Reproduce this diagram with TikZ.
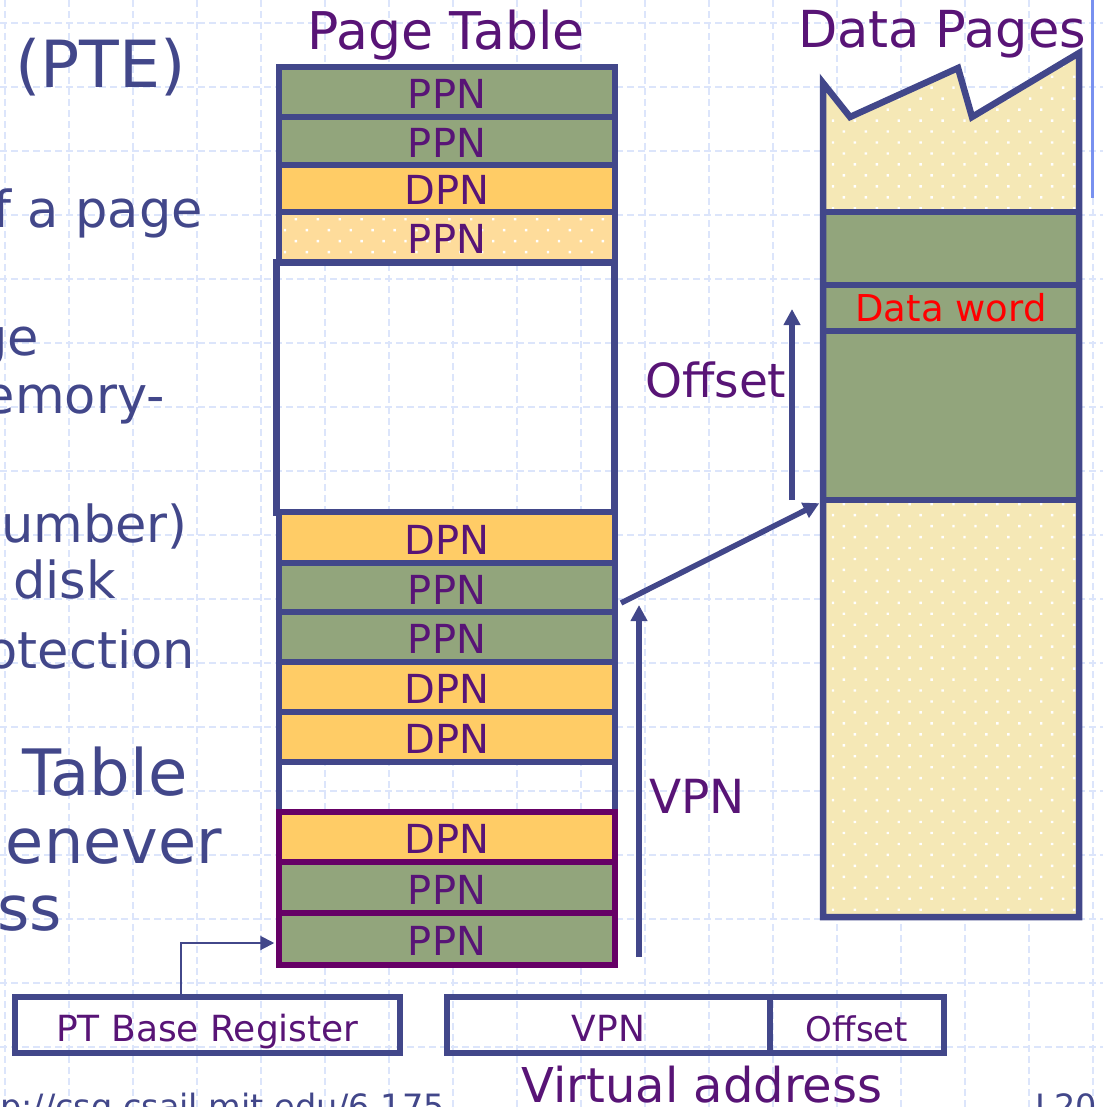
\documentclass[tikz,border=0pt]{standalone}
\usepackage{fontspec}
\setmainfont{DejaVu Sans}
\usetikzlibrary{arrows.meta,patterns.meta}

\definecolor{slate}{RGB}{66,71,138}
\definecolor{ptext}{RGB}{88,20,118}
\definecolor{plum}{RGB}{102,0,102}
\definecolor{pgreen}{RGB}{146,165,124}
\definecolor{porange}{RGB}{255,204,102}
\definecolor{ptdot}{RGB}{254,220,155}
\definecolor{dpdot}{RGB}{245,232,182}
\definecolor{gridblue}{RGB}{220,229,251}
\definecolor{edgeblue}{RGB}{120,145,240}

\tikzset{
  gridline/.style={gridblue, line width=1.2pt, dash pattern=on 7pt off 4pt},
  speckle/.style={preaction={fill=#1},
    preaction={pattern={Dots[radius=1.7pt,distance=15.5pt,angle=45]}, pattern color=white}},
  ptrow/.style={draw=slate, line width=5.5pt, minimum width=336pt, inner sep=0pt,
    text height=40pt, text depth=7pt, font=\fontsize{40}{48}\selectfont, text=ptext},
  ppn/.style={ptrow, fill=pgreen},
  dpn/.style={ptrow, fill=porange},
  plumframe/.style={draw=plum},
  dpblock/.style={draw=slate, line width=5.5pt, fill=pgreen, minimum width=256pt, inner sep=0pt},
  regbox/.style={draw=slate, line width=5.5pt, minimum height=56pt, inner sep=0pt,
    text height=32pt, text depth=0pt, font=\fontsize{36}{42}\selectfont, text=ptext},
  bodytext/.style={inner sep=0pt, text=slate, font=\fontsize{65}{70}\selectfont},
  subtext/.style={inner sep=0pt, text=slate, font=\fontsize{51}{56}\selectfont},
  bigtext/.style={inner sep=0pt, text=slate, font=\fontsize{62}{66}\selectfont},
  foottext/.style={inner sep=0pt, text=slate, font=\fontsize{33.5}{36}\selectfont},
  title/.style={inner sep=0pt, text=ptext, anchor=base},
  sidelabel/.style={inner sep=0pt, text=ptext, anchor=base west, font=\fontsize{47}{52}\selectfont},
  bigarrow/.style={slate, line width=5.5pt, -{Triangle[length=16pt,width=16pt]}},
  thinarrow/.style={slate, line width=2pt, -{Triangle[length=14pt,width=14pt]}},
}

\begin{document}
\begin{tikzpicture}[x=1pt,y=-1pt]
\useasboundingbox (0,0) rectangle (1103,1107);
\clip (0,0) rectangle (1103,1107);

% background grid
\foreach \i in {0,...,17} \draw[gridline] ({5+64*\i},0) -- ({5+64*\i},1107);
\foreach \j in {0,...,16} \draw[gridline] (0,{23+64*\j}) -- (1103,{23+64*\j});
\draw[edgeblue, line width=3pt] (1092,0) -- (1092,198);

% bullet text at the left edge
\node[bodytext, anchor=base west] (pte) at (15,88) {(PTE)};
\node[subtext, anchor=base east] (ln1) at (203,228) {f a page};
\node[subtext, anchor=base east] (ln2) at (39,355) {ge};
\node[subtext, anchor=base east] (ln3) at (165,413) {emory-};
\node[subtext, anchor=base east] (ln4) at (188,542) {umber)};
\node[subtext, anchor=base west] (ln5) at (13,598) {disk};
\node[subtext, anchor=base east] (ln6) at (195,668) {otection};
\node[bigtext, anchor=base west, font=\fontsize{64}{68}\selectfont] (ln7) at (22,795) {Table};
\node[bigtext, anchor=base east] (ln8) at (222,863) {enever};
\node[bigtext, anchor=base east] (ln9) at (62,930) {ss};

% page table
\node[title, font=\fontsize{52}{60}\selectfont] (pttitle) at (446,50) {Page Table};
\node[ppn, minimum height=50pt] (r1) at (447,92) {PPN};
\node[ppn, minimum height=48pt] (r2) at (447,141) {PPN};
\node[dpn, minimum height=47pt] (r3) at (447,188.5) {DPN};
\node[ptrow, speckle=ptdot, minimum height=50pt] (r4) at (447,237) {PPN};
\node[draw=slate, line width=7pt, minimum width=338pt, minimum height=250pt, inner sep=0pt] (gap) at (445,387) {};
\node[dpn, minimum height=51pt] (r5) at (447,537.5) {DPN};
\node[ppn, minimum height=49pt] (r6) at (447,587.5) {PPN};
\node[ppn, minimum height=50pt] (r7) at (447,637) {PPN};
\node[dpn, minimum height=50pt] (r8) at (447,687) {DPN};
\node[dpn, minimum height=50pt] (r9) at (447,737) {DPN};
\node[ptrow, minimum height=50pt] (r10) at (447,787) {};
\node[dpn, plumframe, minimum height=50pt] (r11) at (447,837) {DPN};
\node[ppn, plumframe, minimum height=51pt] (r12) at (447,887.5) {PPN};
\node[ppn, plumframe, minimum height=52pt] (r13) at (447,939) {PPN};

% data pages
\node[title, font=\fontsize{51}{58}\selectfont] (dptitle) at (942,48) {Data Pages};
\path[speckle=dpdot] (823,83) -- (850,117) -- (958,68) -- (972,117) -- (1079,53)
  -- (1079,212) -- (823,212) -- cycle;
\path[speckle=dpdot] (823,500) rectangle (1079,917);
\node[dpblock, minimum height=73pt] (dpa) at (951,248.5) {};
\node[dpblock, minimum height=46pt, font=\fontsize{37}{42}\selectfont, text=red] (dw) at (951,308) {Data word};
\node[dpblock, minimum height=169pt] (dpb) at (951,415.5) {};
\draw[slate, line width=6.5pt, line join=miter] (823,83) -- (850,117) -- (958,68) -- (972,117)
  -- (1079,53) -- (1079,917) -- (823,917) -- cycle;

% arrows
\coordinate (ptout) at (621,603);
\coordinate (offlo) at (792,500);
\coordinate (offhi) at (792,309);
\coordinate (vpnlo) at (639,957);
\coordinate (vpnhi) at (639,605);
\draw[bigarrow, shorten >=1pt] (ptout) -- (dpb.south west);
\draw[bigarrow] (offlo) -- (offhi);
\draw[bigarrow] (vpnlo) -- (vpnhi);
\node[sidelabel] (offlabel) at (645,397) {Offset};
\node[sidelabel] (vpnlabel) at (649,813) {VPN};

% registers
\node[regbox, minimum width=385pt] (ptbr) at (207.5,1025) {PT Base Register};
\node[regbox, minimum width=323pt] (vavpn) at (608.5,1025) {VPN};
\node[regbox, minimum width=174pt, font=\fontsize{34}{40}\selectfont] (vaoff) at (857,1025) {Offset};
\coordinate (brup) at (181,997);
\draw[thinarrow, shorten >=2pt] (brup) |- ([yshift=-4pt]r13.west);
\node[title, font=\fontsize{48}{54}\selectfont] (vatitle) at (702,1102) {Virtual address};

% footer
\node[foottext, anchor=base east] (url) at (445,1118) {p://csg.csail.mit.edu/6.175};
\node[foottext, anchor=base east] (pgno) at (1097,1118) {L20};
\end{tikzpicture}
\end{document}
